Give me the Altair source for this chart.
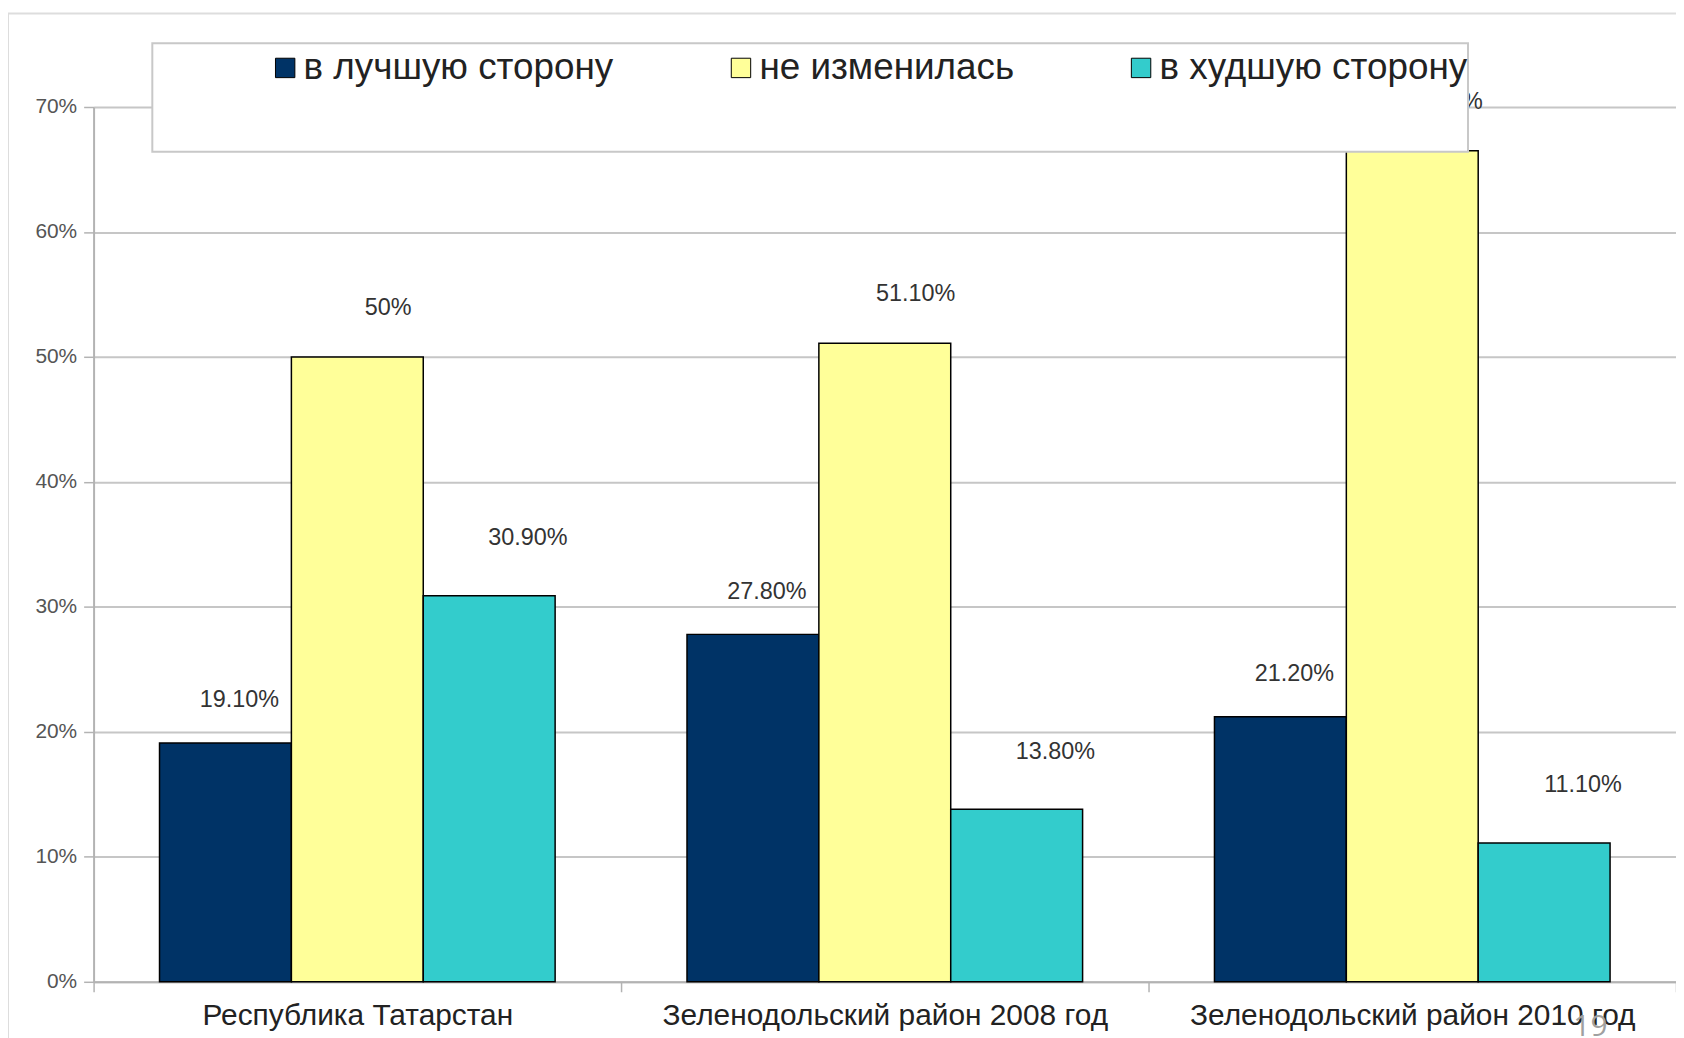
import altair as alt
import pandas as pd

categories = ["Республика Татарстан", "Зеленодольский район 2008 год", "Зеленодольский район 2010 год"]
series = ["в лучшую сторону", "не изменилась", "в худшую сторону"]
better = [19.1, 27.8, 21.2]
same = [50.0, 51.1, 66.5]
worse = [30.9, 13.8, 11.1]
labels_better = ["19.10%", "27.80%", "21.20%"]
labels_same = ["50%", "51.10%", "66.50%"]
labels_worse = ["30.90%", "13.80%", "11.10%"]
colors = ["#003366", "#FFFF99", "#33CCCC"]
y_ticks = [0, 10, 20, 30, 40, 50, 60, 70]
page_number = ["19"]

rows = []
for s, vals, labs in zip(series, [better, same, worse], [labels_better, labels_same, labels_worse]):
    for c, v, l in zip(categories, vals, labs):
        rows.append({"region": c, "series": s, "value": v, "label": l})
df = pd.DataFrame(rows)

FONT = "Liberation Sans"

base = alt.Chart(df).encode(
    x=alt.X("region:N", sort=categories,
            scale=alt.Scale(paddingInner=0, paddingOuter=0),
            axis=alt.Axis(title=None, labelAngle=0, tickBand="extent", labelFont=FONT,
                          labelFontSize=30, labelColor="#222222", labelPadding=9, labelLimit=0,
                          domainColor="#b3b3b3", domainWidth=2, tickColor="#b3b3b3", tickWidth=1.5,
                          tickSize=10, grid=False)),
    xOffset=alt.XOffset("series:N", sort=series, scale=alt.Scale(paddingInner=0, paddingOuter=0.5)),
    y=alt.Y("value:Q", scale=alt.Scale(domain=[0, 70], nice=False),
            axis=alt.Axis(title=None, values=y_ticks, labelExpr="datum.value + '%'", labelFont=FONT,
                          labelFontSize=21, labelColor="#555555", labelPadding=7,
                          domainColor="#b3b3b3", domainWidth=2, tickColor="#b3b3b3", tickWidth=1.5,
                          tickSize=10, grid=True, gridColor="#c6c6c6", gridWidth=2)),
)

bars = base.mark_bar(stroke="black", strokeWidth=1.5).encode(
    color=alt.Color("series:N", sort=series,
                    scale=alt.Scale(domain=series, range=colors),
                    legend=alt.Legend(title=None, orient="none", legendX=174, legendY=-58,
                                      direction="horizontal", columns=3, columnPadding=109,
                                      symbolType="square", symbolSize=380, symbolStrokeColor="black",
                                      symbolStrokeWidth=1, labelFont=FONT, labelFontSize=37,
                                      labelColor="#222222", labelOffset=0, labelLimit=0, padding=0))
)

offsets = {series[0]: (14, -43), series[1]: (31, -49), series[2]: (39, -58)}
texts = []
for s in series:
    dx, dy = offsets[s]
    texts.append(
        base.mark_text(dx=dx, dy=dy, font=FONT, fontSize=23.5, color="#333333",
                       align="center", baseline="middle")
        .encode(text="label:N")
        .transform_filter(alt.datum.series == s)
    )

one = pd.DataFrame({"a": [0]})
legend_box = alt.Chart(one).mark_rect(fill="white", stroke="#c8c8c8", strokeWidth=2).encode(
    x=alt.value(59), x2=alt.value(1381), y=alt.value(-64), y2=alt.value(45)
)
frame = alt.Chart(one).mark_rect(fill=None, stroke="#dddddd", strokeWidth=2).encode(
    x=alt.value(-86), x2=alt.value(1700), y=alt.value(-94), y2=alt.value(1100)
)
page = alt.Chart(pd.DataFrame({"t": page_number})).mark_text(
    font="Open Sans", fontSize=30, color="#a0a0a0", align="center", baseline="top"
).encode(text="t:N", x=alt.value(1504), y=alt.value(909))

chart = alt.layer(frame, bars, *texts, legend_box, page).properties(
    width=1590, height=879,
    autosize=alt.AutoSizeParams(type="none"),
    padding={"left": 86, "top": 97, "right": 0, "bottom": 54},
).configure_view(stroke=None)

chart.save("out.html", embed_options={"renderer": "svg", "actions": False})
